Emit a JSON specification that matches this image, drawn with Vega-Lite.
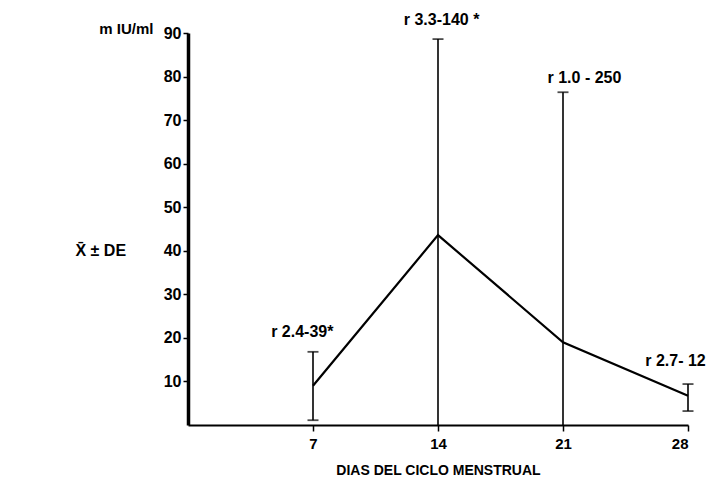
{
  "$schema": "https://vega.github.io/schema/vega-lite/v6.json",
  "autosize": {"type": "none"},
  "width": 500,
  "height": 392,
  "padding": {"left": 188, "top": 33, "right": 27, "bottom": 57},
  "background": "white",
  "config": {
    "view": {"stroke": null},
    "font": "Liberation Sans",
    "axis": {"grid": false, "domainColor": "black", "tickColor": "black", "labelColor": "black", "titleColor": "black", "labelFont": "Liberation Sans", "labelFontWeight": "bold", "titleFont": "Liberation Sans", "titleFontWeight": "bold"}
  },
  "datasets": {
    "means": [
      {"dia": 7, "media": 9.0, "lo": 1.1, "hi": 16.8},
      {"dia": 14, "media": 43.6, "lo": 0, "hi": 88.6},
      {"dia": 21, "media": 19.0, "lo": 0, "hi": 76.4},
      {"dia": 28, "media": 6.7, "lo": 3.2, "hi": 9.4}
    ],
    "labels": [
      {"dia": 6.4, "valor": 20.2, "texto": "r 2.4-39*"},
      {"dia": 14.2, "valor": 91.8, "texto": "r 3.3-140 *"},
      {"dia": 22.2, "valor": 78.6, "texto": "r 1.0 - 250"},
      {"dia": 27.3, "valor": 13.5, "texto": "r 2.7- 12"}
    ]
  },
  "layer": [
    {
      "data": {"name": "means"},
      "mark": {"type": "rule", "color": "black", "strokeWidth": 1.6},
      "encoding": {
        "x": {"field": "dia", "type": "quantitative", "scale": {"domain": [0, 28], "nice": false},
          "axis": {"values": [7, 14, 21, 28], "title": "DIAS DEL CICLO MENSTRUAL", "labelFontSize": 15, "titleFontSize": 14, "domainWidth": 2, "tickWidth": 1.5, "tickSize": 6, "labelPadding": 5, "titlePadding": 12}},
        "y": {"field": "lo", "type": "quantitative", "scale": {"domain": [0, 90], "nice": false},
          "axis": {"orient": "left", "values": [10, 20, 30, 40, 50, 60, 70, 80, 90], "title": "m IU/ml", "titleAngle": 0, "titleAlign": "right", "titleBaseline": "alphabetic", "titleX": -35, "titleY": 0, "titleFontSize": 15, "labelFontSize": 16, "domainWidth": 3.5, "tickWidth": 1.5, "tickSize": 5, "labelPadding": 2}},
        "y2": {"field": "hi"}
      }
    },
    {
      "data": {"name": "means"},
      "mark": {"type": "tick", "orient": "horizontal", "color": "black", "thickness": 1.8, "size": 11},
      "encoding": {
        "x": {"field": "dia", "type": "quantitative"},
        "y": {"field": "hi", "type": "quantitative", "axis": {"orient": "left", "title": "X\u0304 \u00b1 DE", "titleAngle": 0, "titleAlign": "left", "titleBaseline": "middle", "titleX": -113, "titleY": 217, "titleFontSize": 16, "labels": false, "ticks": false, "domain": false}}
      }
    },
    {
      "data": {"name": "means"},
      "transform": [{"filter": "datum.lo > 0"}],
      "mark": {"type": "tick", "orient": "horizontal", "color": "black", "thickness": 1.8, "size": 11},
      "encoding": {
        "x": {"field": "dia", "type": "quantitative"},
        "y": {"field": "lo", "type": "quantitative", "axis": null}
      }
    },
    {
      "data": {"name": "means"},
      "mark": {"type": "line", "color": "black", "strokeWidth": 2.2},
      "encoding": {
        "x": {"field": "dia", "type": "quantitative"},
        "y": {"field": "media", "type": "quantitative", "axis": null}
      }
    },
    {
      "data": {"name": "labels"},
      "mark": {"type": "text", "font": "Liberation Sans", "fontWeight": "bold", "fontSize": 16, "baseline": "alphabetic", "align": "center", "color": "black"},
      "encoding": {
        "x": {"field": "dia", "type": "quantitative"},
        "y": {"field": "valor", "type": "quantitative", "axis": null},
        "text": {"field": "texto"}
      }
    }
  ],
  "resolve": {"axis": {"y": "independent"}}
}
